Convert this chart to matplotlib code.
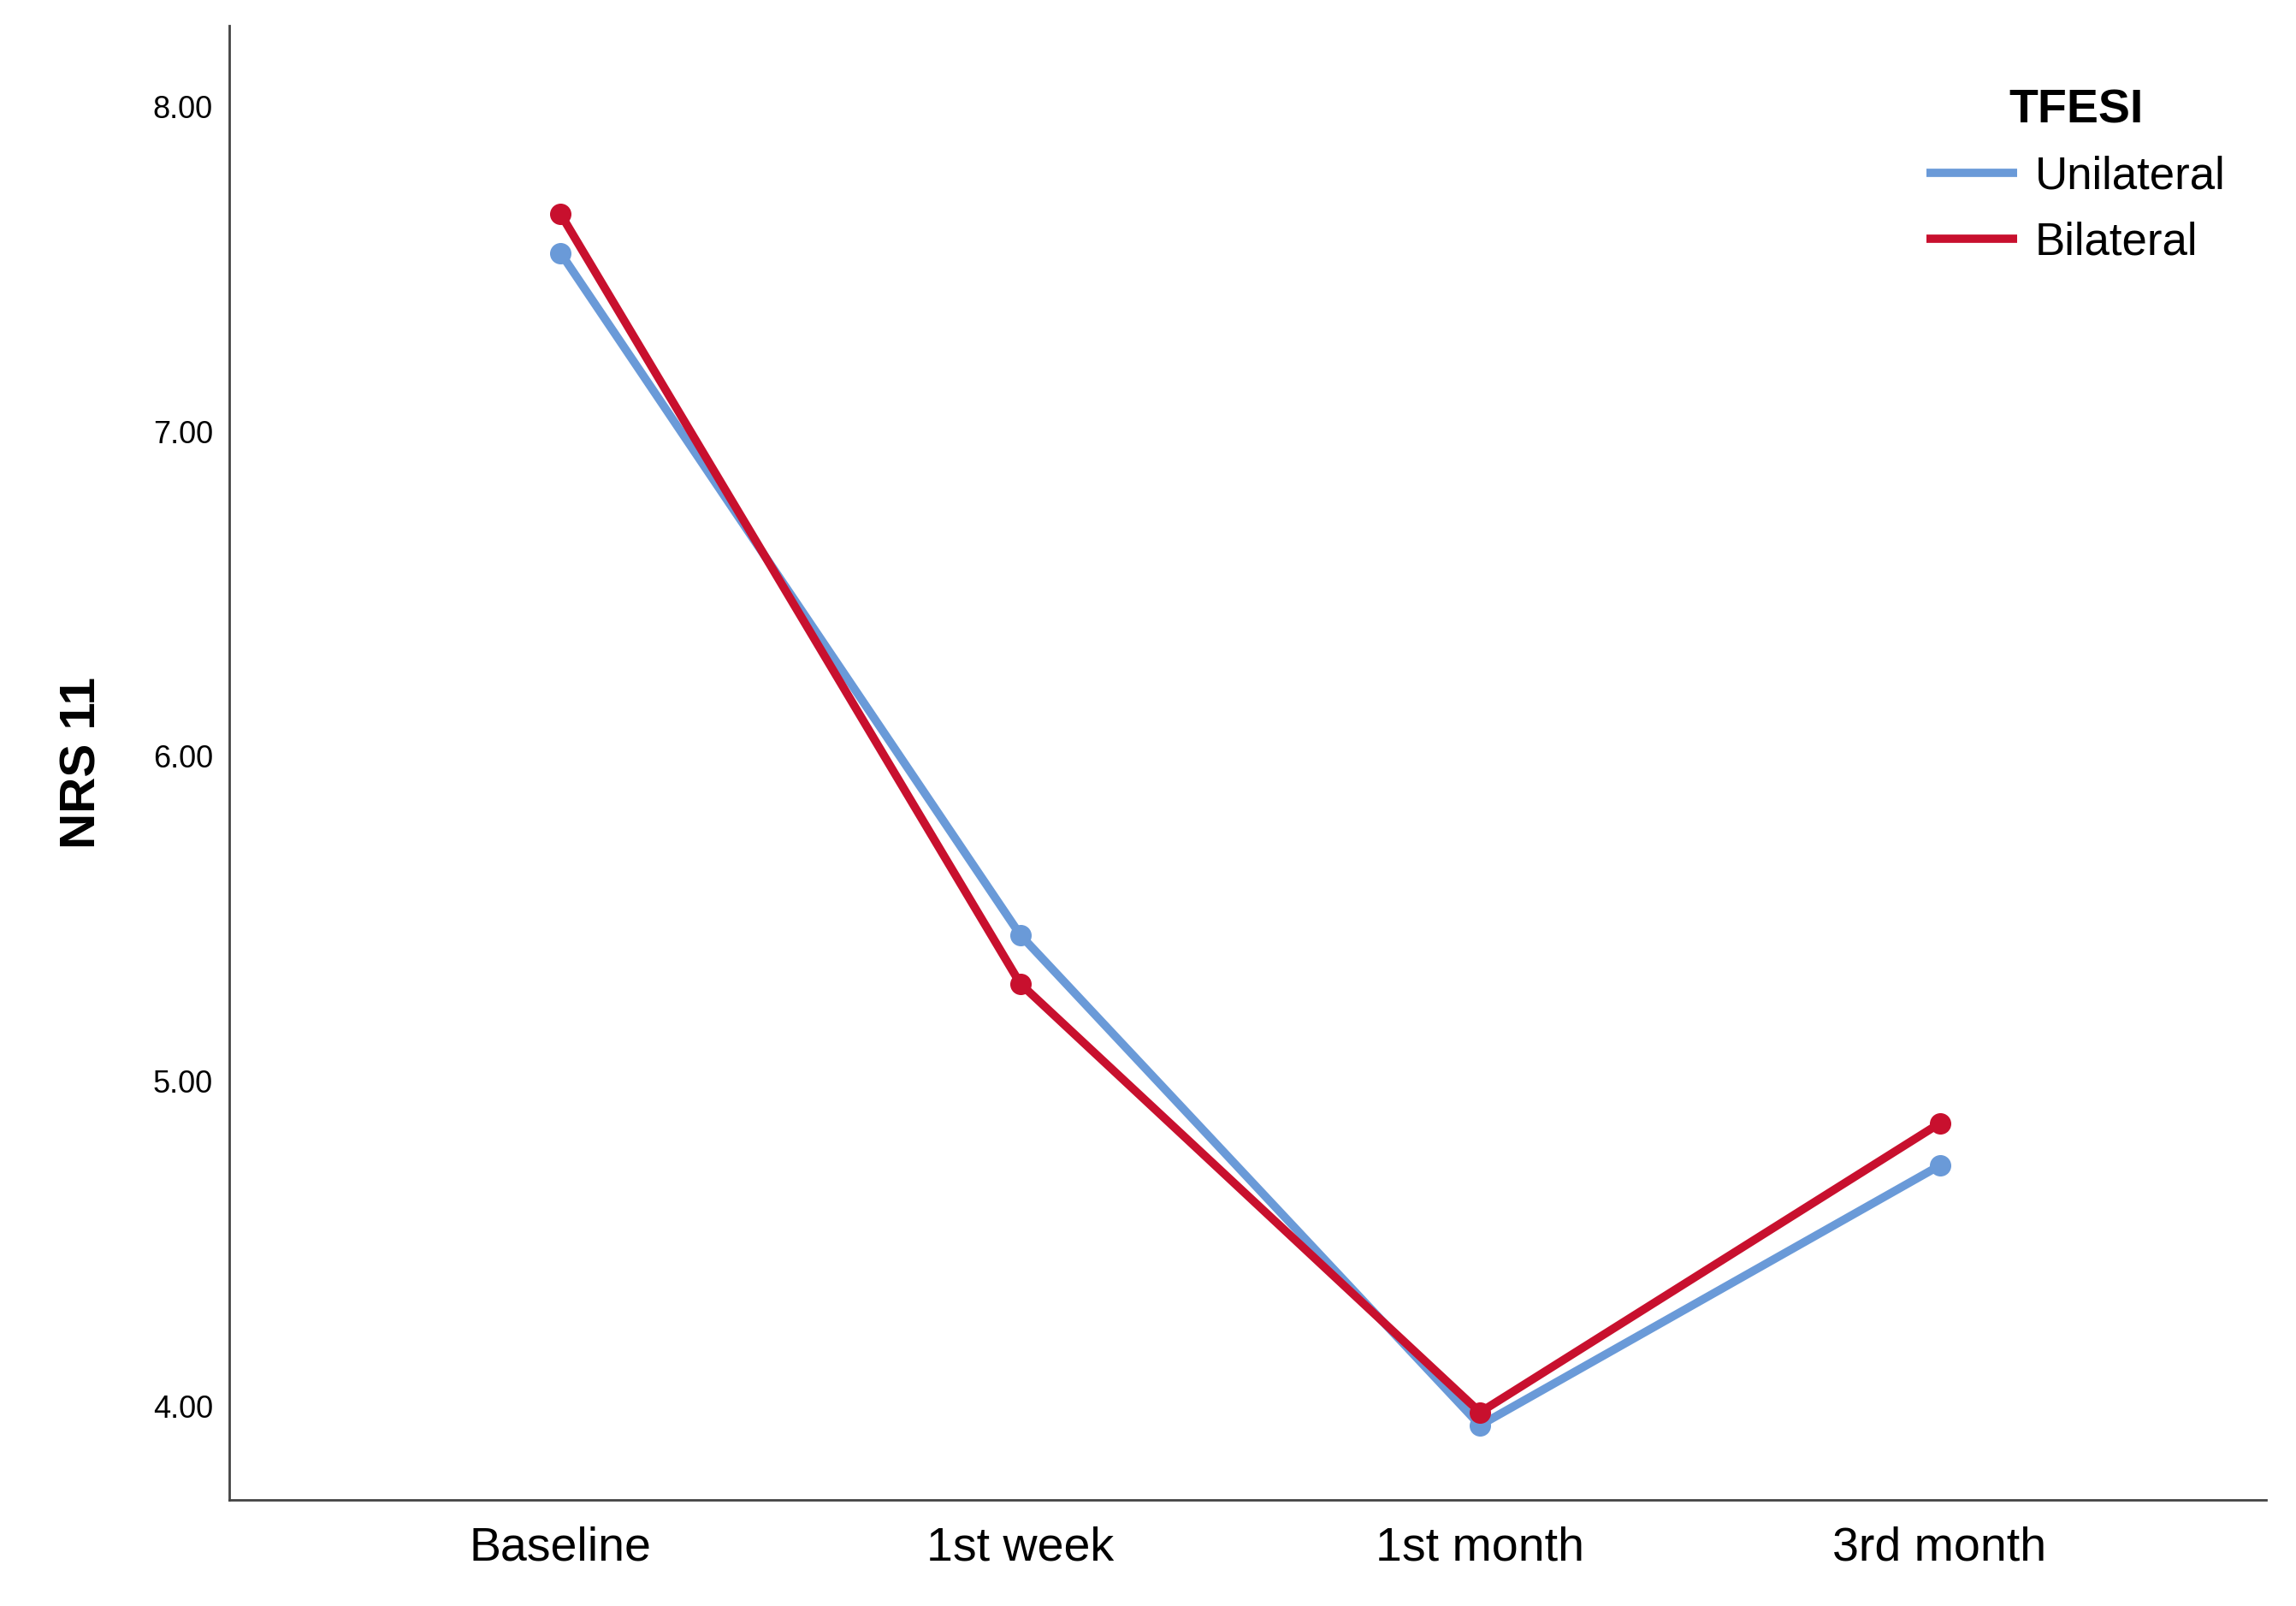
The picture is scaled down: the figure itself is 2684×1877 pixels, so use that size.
import matplotlib
matplotlib.use("Agg")
import matplotlib.pyplot as plt

categories = ["Baseline", "1st week", "1st month", "3rd month"]
unilateral = [7.55, 5.45, 3.94, 4.74]
bilateral = [7.67, 5.30, 3.98, 4.87]
yticks = [4.0, 5.0, 6.0, 7.0, 8.0]

plt.rcParams['font.family'] = ['Liberation Sans', 'DejaVu Sans']
fig = plt.figure(figsize=(26.84, 18.77), dpi=100)
ax = fig.add_axes([0.100, 0.066, 0.887, 0.918])
x = list(range(len(categories)))
ax.plot(x, unilateral, color="#6A9AD8", lw=7, marker="o", ms=17, label="Unilateral", solid_capstyle="butt")
ax.plot(x, bilateral, color="#C8102E", lw=7, marker="o", ms=17, label="Bilateral", solid_capstyle="butt")
ax.set_xlim(-0.72, 3.71)
ax.set_ylim(3.71, 8.25)
ax.set_xticks(x)
ax.set_xticklabels(categories, fontsize=40)
ax.set_yticks(yticks)
ax.set_yticklabels([f"{v:.2f}" for v in yticks], fontsize=26)
ax.tick_params(length=0, pad=14)
ax.tick_params(axis='x', pad=22)
for s in ["top", "right"]:
    ax.spines[s].set_visible(False)
for s in ["left", "bottom"]:
    ax.spines[s].set_linewidth(2)
    ax.spines[s].set_color("#444444")
ax.set_ylabel("NRS 11", fontsize=42, fontweight="bold", labelpad=40)
leg = ax.legend(title="TFESI", loc="upper right", bbox_to_anchor=(1.0, 0.985), frameon=False,
                fontsize=38, title_fontproperties={"size": 40, "weight": "bold"},
                handlelength=2.0, handletextpad=0.4, markerscale=0)
for h in leg.legend_handles:
    h.set_marker("")
fig.savefig("out.png", dpi=100, facecolor="white")
